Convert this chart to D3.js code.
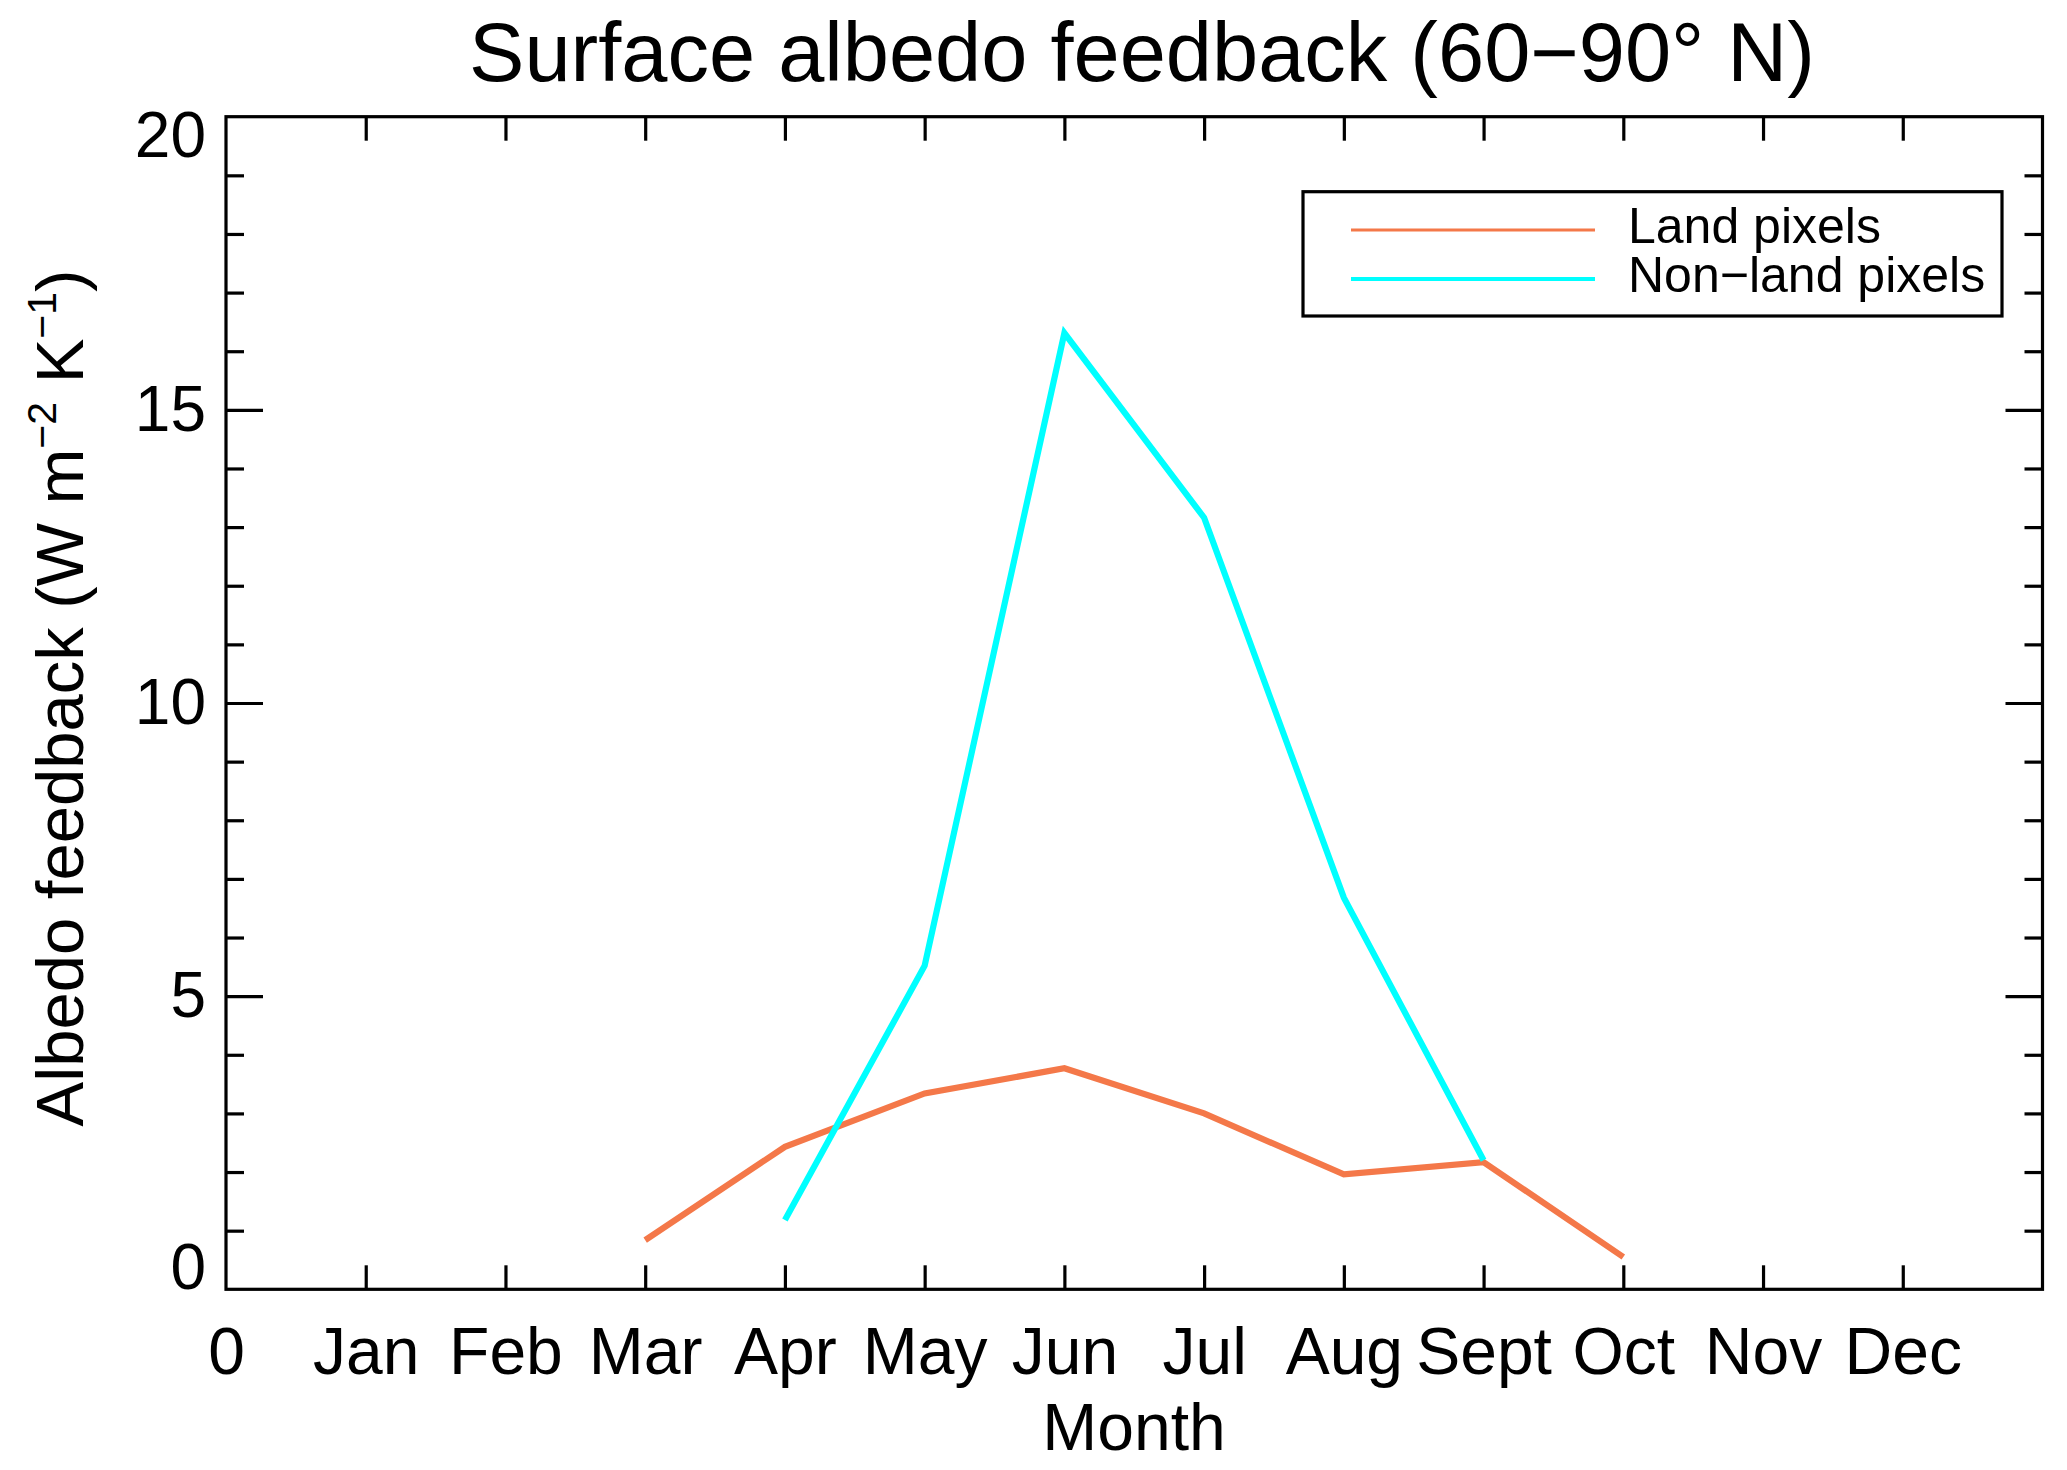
<!DOCTYPE html>
<html>
<head>
<meta charset="utf-8">
<script src="https://cdn.jsdelivr.net/npm/d3@7"></script>
<style>
  html, body { margin: 0; padding: 0; background: #fff; }
  svg { display: block; }
  text { font-family: "Liberation Sans", Arial, Helvetica, sans-serif; fill: #000; }
</style>
</head>
<body>
<svg id="chart" width="2067" height="1470"></svg>
<script>
// ---- data ----
const monthLabels = ["0", "Jan", "Feb", "Mar", "Apr", "May", "Jun", "Jul", "Aug", "Sept", "Oct", "Nov", "Dec"];
const landMonths = [3, 4, 5, 6, 7, 8, 9, 10];
const landValues = [0.84, 2.43, 3.34, 3.77, 3.0, 1.96, 2.17, 0.55];
const nonLandMonths = [4, 5, 6, 7, 8, 9];
const nonLandValues = [1.18, 5.52, 16.31, 13.16, 6.68, 2.2];
const yMajorTicks = [0, 5, 10, 15, 20];
const yMinorTicks = [1, 2, 3, 4, 6, 7, 8, 9, 11, 12, 13, 14, 16, 17, 18, 19];
const seriesNames = ["Land pixels", "Non\u2212land pixels"];
const seriesColors = ["#F47849", "#00FFFF"];

// ---- layout ----
const svg = d3.select("#chart");
const L = 226, R = 2042.5, T = 116.7, B = 1289.3;
const x = d3.scaleLinear().domain([0, 13]).range([L, R]);
const y = d3.scaleLinear().domain([0, 20]).range([B, T]);

// data lines
const line = d3.line().x(d => x(d[0])).y(d => y(d[1]));
const landData = landMonths.map((m, i) => [m, landValues[i]]);
const nonLandData = nonLandMonths.map((m, i) => [m, nonLandValues[i]]);

svg.append("path").datum(landData).attr("d", line)
  .attr("fill", "none").attr("stroke", seriesColors[0]).attr("stroke-width", 6.2)
  .attr("stroke-linejoin", "miter").attr("stroke-linecap", "butt");
svg.append("path").datum(nonLandData).attr("d", line)
  .attr("fill", "none").attr("stroke", seriesColors[1]).attr("stroke-width", 6.2)
  .attr("stroke-linejoin", "miter").attr("stroke-linecap", "butt");

// axes
function styleAxis(g) {
  g.select(".domain").remove();
  g.selectAll(".tick line").attr("stroke", "#000").attr("stroke-width", 3.2);
}
const monthTicks = d3.range(1, 13);

// bottom
const gB = svg.append("g").attr("transform", `translate(0,${B})`)
  .call(d3.axisBottom(x).tickValues(d3.range(0, 13)).tickSizeInner(-24).tickSizeOuter(0)
    .tickPadding(38).tickFormat(d => monthLabels[d]));
styleAxis(gB);
gB.selectAll(".tick text").attr("font-size", 66).attr("font-family", "Liberation Sans, Arial, sans-serif").attr("fill", "#000");
gB.selectAll(".tick").filter(d => d === 0).select("line").remove();

// top
const gT = svg.append("g").attr("transform", `translate(0,${T})`)
  .call(d3.axisTop(x).tickValues(monthTicks).tickSizeInner(-24).tickSizeOuter(0).tickFormat(""));
styleAxis(gT);

// left major
const gL = svg.append("g").attr("transform", `translate(${L},0)`)
  .call(d3.axisLeft(y).tickValues(yMajorTicks).tickSizeInner(-37).tickSizeOuter(0)
    .tickPadding(20).tickFormat(d3.format("d")));
styleAxis(gL);
gL.selectAll(".tick text").attr("font-size", 64).attr("font-family", "Liberation Sans, Arial, sans-serif").attr("fill", "#000");
gL.selectAll(".tick").filter(d => d === 0 || d === 20).select("line").remove();
gL.selectAll(".tick").filter(d => d === 0).select("text").attr("dy", "-0.02em");
gL.selectAll(".tick").filter(d => d === 20).select("text").attr("dy", "0.62em");

// left minor
const gLm = svg.append("g").attr("transform", `translate(${L},0)`)
  .call(d3.axisLeft(y).tickValues(yMinorTicks).tickSizeInner(-18).tickSizeOuter(0).tickFormat(""));
styleAxis(gLm);

// right major + minor
const gR = svg.append("g").attr("transform", `translate(${R},0)`)
  .call(d3.axisRight(y).tickValues(yMajorTicks.filter(v => v > 0 && v < 20)).tickSizeInner(-37).tickSizeOuter(0).tickFormat(""));
styleAxis(gR);
const gRm = svg.append("g").attr("transform", `translate(${R},0)`)
  .call(d3.axisRight(y).tickValues(yMinorTicks).tickSizeInner(-18).tickSizeOuter(0).tickFormat(""));
styleAxis(gRm);

// frame
svg.append("rect").attr("x", L).attr("y", T).attr("width", R - L).attr("height", B - T)
  .attr("fill", "none").attr("stroke", "#000").attr("stroke-width", 3.2);

// title
svg.append("text").attr("x", 1142).attr("y", 81).attr("text-anchor", "middle")
  .attr("font-size", 83).text("Surface albedo feedback (60\u221290\u00B0 N)");

// x axis title
svg.append("text").attr("x", 1134).attr("y", 1450).attr("text-anchor", "middle")
  .attr("font-size", 66).text("Month");

// y axis title
const yt = svg.append("text").attr("transform", "translate(83,698) rotate(-90)")
  .attr("text-anchor", "middle").attr("font-size", 67);
yt.append("tspan").text("Albedo feedback (W m");
yt.append("tspan").attr("font-size", 41).attr("dy", -27).text("\u22122");
yt.append("tspan").attr("dy", 27).text(" K");
yt.append("tspan").attr("font-size", 41).attr("dy", -27).text("\u22121");
yt.append("tspan").attr("dy", 27).text(")");

// legend
const lg = svg.append("g");
lg.append("rect").attr("x", 1303).attr("y", 191.7).attr("width", 2002 - 1303).attr("height", 316 - 191.7)
  .attr("fill", "#fff").attr("stroke", "#000").attr("stroke-width", 3.2);
const legendY = [230, 279];
seriesNames.forEach((name, i) => {
  lg.append("line").attr("x1", 1351).attr("x2", 1595).attr("y1", legendY[i]).attr("y2", legendY[i])
    .attr("stroke", seriesColors[i]).attr("stroke-width", i === 0 ? 3.2 : 4);
  lg.append("text").attr("x", 1628).attr("y", legendY[i] + 13).attr("font-size", 50).text(name);
});
</script>
</body>
</html>
